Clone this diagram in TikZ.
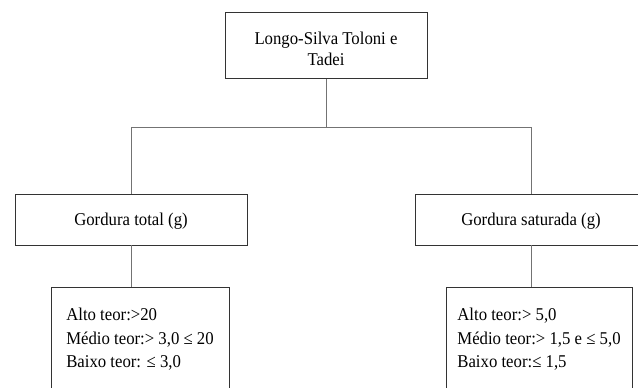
\documentclass[tikz,border=0pt]{standalone}
\usepackage{fontspec}
\setmainfont{Liberation Serif}[FakeStretch=0.93]
\usetikzlibrary{positioning, calc}
\newcommand\dropby[2]{\raisebox{-#1}[\height][\depth]{#2}}
\tikzset{
  %% Plain rectangle box
  pbox/.style={
    rectangle, draw=black!80, fill=white,
    text centered, line width=0.8pt,
    font=\fontsize{18}{21}\selectfont,
    inner sep=0pt
  },
  %% Box with the levels
  lvlbox/.style={
    rectangle, draw=black!80, fill=white,
    align=left, line width=0.8pt,
    font=\fontsize{18}{23.5}\selectfont,
    inner xsep=0pt, inner ysep=21pt,
    text depth=60pt, anchor=north
  },
  %% Connector
  conn/.style={draw=black!55, line width=1pt},
}
\begin{document}
\begin{tikzpicture}[x=1pt, y=-1pt]

  \useasboundingbox (0,0) rectangle (638,388);
  \clip (0,0) rectangle (638,388);

  %% Root
  \node[pbox, minimum width=202pt, minimum height=66pt]
       (root) at (326,45.5)
       {\dropby{5pt}{\begin{tabular}{@{}c@{}}Longo-Silva Toloni e\\Tadei\end{tabular}}};

  %% Groups
  \node[pbox, minimum width=232pt, minimum height=51pt]
       (total) at (131,219.5) {\dropby{2pt}{Gordura total (g)}};
  \node[pbox, minimum width=232pt, minimum height=51pt]
       (sat) at (531,219.5) {\dropby{2pt}{Gordura saturada (g)}};

  %% Levels
  \node[lvlbox, minimum width=178pt] (totlvl) at (140,287)
       {Alto teor:>20\\ Médio teor:> 3,0 ≤ 20\\ Baixo teor: ≤ 3,0\hspace*{3pt}};
  \node[lvlbox, minimum width=186pt] (satlvl) at (539,287)
       {Alto teor:> 5,0\\ Médio teor:> 1,5 e ≤ 5,0\\ Baixo teor:≤ 1,5};

  %% Connectors
  \coordinate (hub) at ($(root.south)+(0,49)$);
  \draw[conn] (root.south) -- (hub);
  \draw[conn] (total.north) |- (hub) -| (sat.north);
  \draw[conn] (total.south) -- (total.south |- totlvl.north);
  \draw[conn] (sat.south) -- (sat.south |- satlvl.north);

\end{tikzpicture}
\end{document}
